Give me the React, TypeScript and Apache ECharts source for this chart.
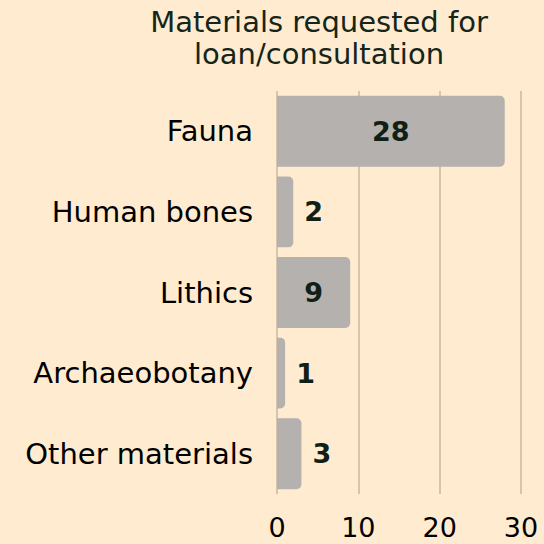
import React, { useEffect, useRef } from "react";
import * as echarts from "echarts";

const categories = ["Fauna", "Human bones", "Lithics", "Archaeobotany", "Other materials"];
const values = [28, 2, 9, 1, 3];
const xTicks = [0, 10, 20, 30];

const FONT = "'DejaVu Sans', sans-serif";
const DARK = "#102014";

export default function App() {
  const ref = useRef<HTMLDivElement>(null);
  useEffect(() => {
    const chart = echarts.init(ref.current!, null, { renderer: "svg" });
    chart.setOption({
      animation: false,
      backgroundColor: "#FFEBD0",
      title: {
        text: "Materials requested for\nloan/consultation",
        left: 314,
        textAlign: "center",
        top: 1,
        textStyle: { fontFamily: FONT, fontSize: 29, fontWeight: "normal", color: "#15251A", lineHeight: 32 },
      },
      grid: { left: 277, right: 23, top: 91, bottom: 50, containLabel: false },
      xAxis: {
        type: "value",
        min: xTicks[0],
        max: xTicks[xTicks.length - 1],
        interval: 10,
        axisLine: { show: false },
        axisTick: { show: false },
        axisLabel: { fontFamily: FONT, fontSize: 27, color: "#000", margin: 20 },
        splitLine: { show: true, lineStyle: { color: "#C9B99E", width: 1.5 } },
      },
      yAxis: {
        type: "category",
        data: categories,
        inverse: true,
        axisLine: { show: false },
        axisTick: { show: false },
        axisLabel: { fontFamily: FONT, fontSize: 29, color: "#000", margin: 24 },
      },
      series: [
        {
          type: "bar",
          data: values.map((v) => ({
            value: v,
            label: v > 5 ? { position: "inside" } : { position: "right" },
          })),
          barCategoryGap: "12%",
          itemStyle: { color: "#B5B1AF", borderRadius: [0, 5, 5, 0] },
          label: {
            show: true,
            fontFamily: FONT,
            fontSize: 27,
            fontWeight: "bold",
            color: DARK,
            distance: 11,
          },
        },
      ],
    });
    return () => chart.dispose();
  }, []);
  return <div ref={ref} style={{ width: 544, height: 544, position: "fixed", top: 0, left: 0 }} />;
}
